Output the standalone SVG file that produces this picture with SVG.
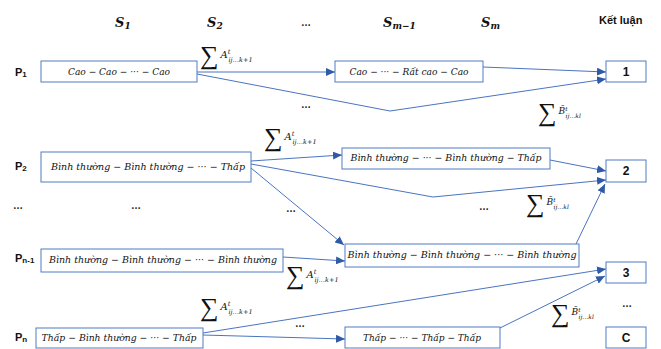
<svg xmlns="http://www.w3.org/2000/svg" width="661" height="349" viewBox="0 0 661 349">
  <style>
    .box { fill: #ffffff; stroke: #4f7bc4; stroke-width: 1; }
    .edge { fill: none; stroke: #4a74c0; stroke-width: 1; }
    .lbl { font-family: "Liberation Sans", Arial, sans-serif; font-weight: bold; font-size: 11px; fill: #111; }
    .math { font-family: "DejaVu Serif", "Liberation Serif", serif; font-style: italic; font-size: 9.5px; fill: #111; }
    .hdr { font-family: "DejaVu Serif", "Liberation Serif", serif; font-style: italic; font-weight: bold; font-size: 13px; fill: #111; }
    .dots { font-family: "Liberation Sans", Arial, sans-serif; font-weight: bold; font-size: 10px; fill: #222; }
    .sum { font-family: "Liberation Serif", "DejaVu Serif", serif; fill: #111; }
    .sig { font-size: 26px; }
    .v { font-family: "DejaVu Serif", serif; font-style: italic; }
    .res { font-family: "Liberation Sans", Arial, sans-serif; font-weight: bold; font-size: 12px; fill: #111; }
  </style>
  <defs>
    <marker id="arrow" markerUnits="userSpaceOnUse" markerWidth="10" markerHeight="8" refX="9" refY="4" orient="auto">
      <path d="M0,0 L9,4 L0,8 z" fill="#2f5aa6"/>
    </marker>
  </defs>

  <!-- column headers -->
  <g id="headers">
    <text class="hdr" x="115" y="27">S<tspan font-size="9" dy="2">1</tspan></text>
    <text class="hdr" x="207" y="27">S<tspan font-size="9" dy="2">2</tspan></text>
    <text class="dots" x="301" y="26">…</text>
    <text class="hdr" x="383" y="27">S<tspan font-size="9" dy="2">m−1</tspan></text>
    <text class="hdr" x="481" y="27">S<tspan font-size="9" dy="2">m</tspan></text>
    <text class="lbl" x="599" y="24">Kết luận</text>
  </g>

  <!-- row labels -->
  <g id="row-labels">
    <text class="lbl" x="15" y="76">P<tspan font-size="8" dy="1">1</tspan></text>
    <text class="lbl" x="15" y="170">P<tspan font-size="8" dy="1">2</tspan></text>
    <text class="dots" x="13" y="209">…</text>
    <text class="lbl" x="15" y="262">P<tspan font-size="8" dy="1">n-1</tspan></text>
    <text class="lbl" x="15" y="341">P<tspan font-size="8" dy="1">n</tspan></text>
  </g>

  <!-- connectors -->
  <g id="connectors">
    <line class="edge" x1="197" y1="72" x2="335" y2="72" marker-end="url(#arrow)"/>
    <polyline class="edge" points="197,74 390,111 606,79" marker-end="url(#arrow)"/>
    <line class="edge" x1="483" y1="67" x2="606" y2="72" marker-end="url(#arrow)"/>

    <line class="edge" x1="251" y1="161" x2="342" y2="155" marker-end="url(#arrow)"/>
    <polyline class="edge" points="251,164 433,197 606,180" marker-end="url(#arrow)"/>
    <line class="edge" x1="251" y1="168" x2="344" y2="245" marker-end="url(#arrow)"/>
    <line class="edge" x1="550" y1="160" x2="606" y2="171" marker-end="url(#arrow)"/>

    <line class="edge" x1="283" y1="257" x2="345" y2="261" marker-end="url(#arrow)"/>
    <line class="edge" x1="576" y1="244" x2="605" y2="184" marker-end="url(#arrow)"/>

    <line class="edge" x1="203" y1="335" x2="345" y2="339" marker-end="url(#arrow)"/>
    <line class="edge" x1="203" y1="333" x2="606" y2="269" marker-end="url(#arrow)"/>
    <line class="edge" x1="500" y1="328" x2="605" y2="276" marker-end="url(#arrow)"/>
  </g>

  <!-- transition weights and ellipses -->
  <g id="weights">
    <text class="sum" x="200" y="64"><tspan class="sig">∑</tspan><tspan class="v" font-size="10" dx="2" dy="-6">A</tspan><tspan class="v" font-size="6.5" dy="-4">t</tspan><tspan class="v" font-size="6.5" dx="-2" dy="8">ij…k+1</tspan></text>
    <text class="sum" x="264" y="146"><tspan class="sig">∑</tspan><tspan class="v" font-size="10" dx="2" dy="-6">A</tspan><tspan class="v" font-size="6.5" dy="-4">t</tspan><tspan class="v" font-size="6.5" dx="-2" dy="8">ij…k+1</tspan></text>
    <text class="sum" x="286" y="284"><tspan class="sig">∑</tspan><tspan class="v" font-size="10" dx="2" dy="-6">A</tspan><tspan class="v" font-size="6.5" dy="-4">t</tspan><tspan class="v" font-size="6.5" dx="-2" dy="8">ij…k+1</tspan></text>
    <text class="sum" x="200" y="316"><tspan class="sig">∑</tspan><tspan class="v" font-size="10" dx="2" dy="-6">A</tspan><tspan class="v" font-size="6.5" dy="-4">t</tspan><tspan class="v" font-size="6.5" dx="-2" dy="8">ij…k+1</tspan></text>

    <text class="sum" x="538" y="121"><tspan class="sig">∑</tspan><tspan class="v" font-size="9" dx="2" dy="-7">B̃</tspan><tspan class="v" font-size="6" dy="-3">t</tspan><tspan class="v" font-size="6" dx="-2" dy="7">ij…kl</tspan></text>
    <text class="sum" x="526" y="212"><tspan class="sig">∑</tspan><tspan class="v" font-size="9" dx="2" dy="-7">B̃</tspan><tspan class="v" font-size="6" dy="-3">t</tspan><tspan class="v" font-size="6" dx="-2" dy="7">ij…kl</tspan></text>
    <text class="sum" x="551" y="322"><tspan class="sig">∑</tspan><tspan class="v" font-size="9" dx="2" dy="-7">B̃</tspan><tspan class="v" font-size="6" dy="-3">t</tspan><tspan class="v" font-size="6" dx="-2" dy="7">ij…kl</tspan></text>

    <text class="dots" x="301" y="108">…</text>
    <text class="dots" x="131" y="209">…</text>
    <text class="dots" x="286" y="212">…</text>
    <text class="dots" x="479" y="210">…</text>
    <text class="dots" x="295" y="327">…</text>
    <text class="dots" x="622" y="307">…</text>
  </g>

  <!-- state sequence nodes -->
  <g id="p1-s1">
    <rect class="box" x="41" y="61" width="156" height="21"/>
    <text class="math" x="119" y="75" text-anchor="middle" textLength="102" lengthAdjust="spacingAndGlyphs">Cao − Cao − ··· − Cao</text>
  </g>
  <g id="p1-sm">
    <rect class="box" x="335" y="61" width="148" height="21"/>
    <text class="math" x="409" y="75" text-anchor="middle" textLength="119" lengthAdjust="spacingAndGlyphs">Cao − ··· − Rất cao − Cao</text>
  </g>
  <g id="p2-s1">
    <rect class="box" x="41" y="152" width="210" height="30"/>
    <text class="math" x="148" y="170" text-anchor="middle" textLength="194" lengthAdjust="spacingAndGlyphs">Bình thường − Bình thường − ··· − Thấp</text>
  </g>
  <g id="p2-sm">
    <rect class="box" x="342" y="148" width="208" height="21"/>
    <text class="math" x="446" y="161" text-anchor="middle" textLength="191" lengthAdjust="spacingAndGlyphs">Bình thường − ··· − Bình thường − Thấp</text>
  </g>
  <g id="pn1-s1">
    <rect class="box" x="41" y="249" width="242" height="23"/>
    <text class="math" x="163" y="263" text-anchor="middle" textLength="228" lengthAdjust="spacingAndGlyphs">Bình thường − Bình thường − ··· − Bình thường</text>
  </g>
  <g id="pn1-sm">
    <rect class="box" x="345" y="244" width="234" height="23"/>
    <text class="math" x="462" y="258" text-anchor="middle" textLength="229" lengthAdjust="spacingAndGlyphs">Bình thường − Bình thường − ··· − Bình thường</text>
  </g>
  <g id="pn-s1">
    <rect class="box" x="36" y="328" width="167" height="20"/>
    <text class="math" x="119" y="341" text-anchor="middle" textLength="155" lengthAdjust="spacingAndGlyphs">Thấp − Bình thường − ··· − Thấp</text>
  </g>
  <g id="pn-sm">
    <rect class="box" x="345" y="327" width="155" height="21"/>
    <text class="math" x="422" y="341" text-anchor="middle" textLength="118" lengthAdjust="spacingAndGlyphs">Thấp − ··· − Thấp − Thấp</text>
  </g>

  <!-- conclusion nodes -->
  <g id="result-1">
    <rect class="box" x="606" y="61" width="40" height="21"/>
    <text class="res" x="626" y="76" text-anchor="middle">1</text>
  </g>
  <g id="result-2">
    <rect class="box" x="606" y="160" width="40" height="22"/>
    <text class="res" x="626" y="175" text-anchor="middle">2</text>
  </g>
  <g id="result-3">
    <rect class="box" x="606" y="262" width="40" height="21"/>
    <text class="res" x="626" y="277" text-anchor="middle">3</text>
  </g>
  <g id="result-c">
    <rect class="box" x="606" y="327" width="40" height="21"/>
    <text class="res" x="626" y="342" text-anchor="middle">C</text>
  </g>
</svg>
